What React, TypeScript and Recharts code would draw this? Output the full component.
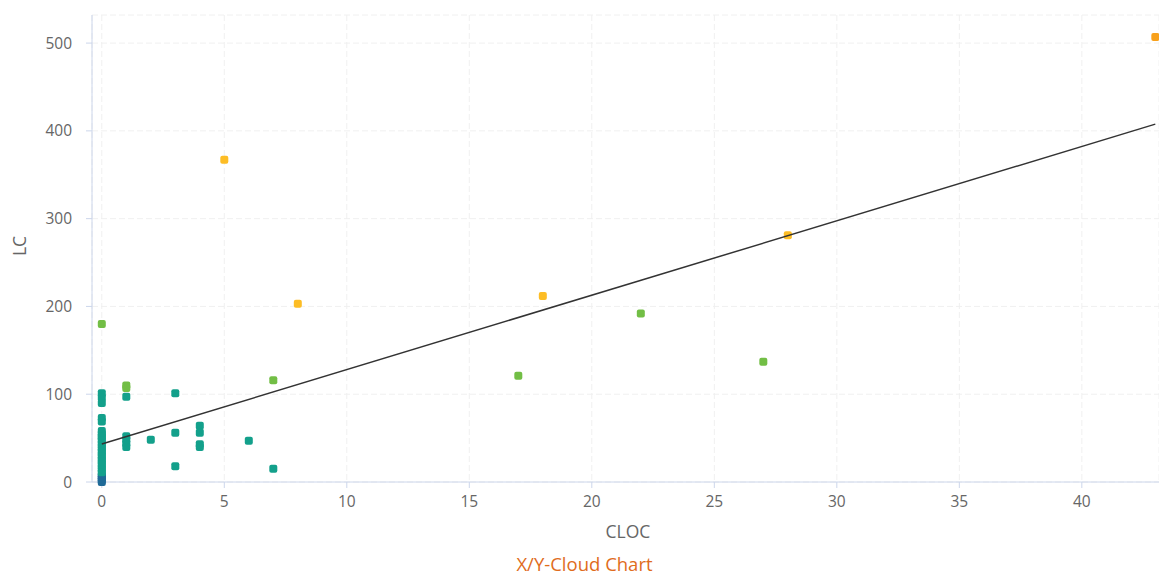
import { ScatterChart, Scatter, XAxis, YAxis, CartesianGrid } from "recharts";

// point groups, coloured by class
const blueCloc = [0, 0, 0, 0, 0];
const blueLc = [8, 6, 4, 2, 0];

const tealCloc = [
  0, 0, 0, 0, 0, 0, 0, 0, 0, 0, 0, 0, 0, 0, 0, 0, 0, 0, 0, 0, 0, 0,
  1, 1, 1, 1, 1, 2, 3, 3, 3, 4, 4, 4, 4, 6, 7,
];
const tealLc = [
  101, 96, 90, 73, 69, 58, 55, 52, 50, 47, 44, 41, 38, 35, 32, 29, 26, 23, 20, 17, 14, 11,
  97, 52, 48, 44, 40, 48, 101, 56, 18, 64, 56, 43, 40, 47, 15,
];

const greenCloc = [0, 1, 1, 7, 17, 22, 27];
const greenLc = [180, 110, 107, 116, 121, 192, 137];

const yellowCloc = [5, 8, 18, 28];
const yellowLc = [367, 203, 212, 281];

const orangeCloc = [43];
const orangeLc = [507];

// regression line end points
const trendCloc = [0, 43];
const trendLc = [43.3, 407.7];

const xTicks = [0, 5, 10, 15, 20, 25, 30, 35, 40];
const yTicks = [0, 100, 200, 300, 400, 500];

const zip = (xs: number[], ys: number[]) => xs.map((x, i) => ({ x, y: ys[i] }));

const groups = [
  { name: "blue", color: "#1f6a97", data: zip(blueCloc, blueLc) },
  { name: "teal", color: "#13a08b", data: zip(tealCloc, tealLc) },
  { name: "green", color: "#72be45", data: zip(greenCloc, greenLc) },
  { name: "yellow", color: "#fdbd25", data: zip(yellowCloc, yellowLc) },
  { name: "orange", color: "#f8a11c", data: zip(orangeCloc, orangeLc) },
];

const axisColor = "#ccd6eb";
const tickStyle = { fill: "#666666", fontSize: 15.5, fontFamily: "Open Sans" };

const marker = (color: string) => (p: any) => (
  <rect x={p.cx - 4} y={p.cy - 4} width={8} height={8} rx={2} fill={color} />
);

export default function App() {
  return (
    <div style={{ position: "absolute", left: 0, top: 0, width: 1159, height: 574, background: "#fff", fontFamily: "Open Sans" }}>
      <ScatterChart width={1159} height={574} margin={{ top: 15, right: 0, left: 0, bottom: 0 }}>
        <CartesianGrid stroke="#f0f0f0" strokeDasharray="6 3" />
        <XAxis
          type="number"
          dataKey="x"
          domain={[-0.4, 43.15]}
          ticks={xTicks}
          height={92}
          stroke={axisColor}
          tickSize={6}
          tickMargin={8}
          tick={tickStyle}
          label={{
            content: () => (
              <text x={628} y={538} textAnchor="middle" fill="#666666" fontSize={17.5} fontFamily="Open Sans">
                CLOC
              </text>
            ),
          }}
        />
        <YAxis
          type="number"
          dataKey="y"
          domain={[0, 532]}
          ticks={yTicks}
          width={92}
          stroke={axisColor}
          tickSize={6}
          tickMargin={14}
          tick={tickStyle}
          label={{
            content: () => (
              <text x={26} y={246} transform="rotate(-90 26 246)" textAnchor="middle" fill="#666666" fontSize={17.5} fontFamily="Open Sans">
                LC
              </text>
            ),
          }}
        />
        {groups.map((g) => (
          <Scatter key={g.name} data={g.data} fill={g.color} shape={marker(g.color)} isAnimationActive={false} />
        ))}
        <Scatter
          data={zip(trendCloc, trendLc)}
          line={{ stroke: "#333333", strokeWidth: 1.5 }}
          shape={() => <g />}
          isAnimationActive={false}
        />
      </ScatterChart>
      <div style={{ position: "absolute", left: 0, width: 1169, top: 551, textAlign: "center", color: "#e06c1c", fontSize: 18.5, fontFamily: "Open Sans" }}>
        X/Y-Cloud Chart
      </div>
    </div>
  );
}
